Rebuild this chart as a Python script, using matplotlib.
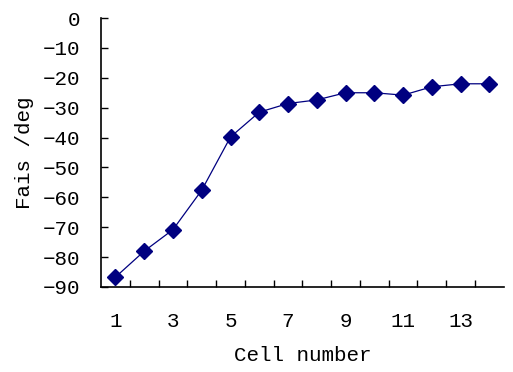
import numpy as np
import matplotlib
matplotlib.use("Agg")
import matplotlib.pyplot as plt

# values
cells = list(range(1, 15))
fais = [-86.7, -78.0, -70.8, -57.6, -39.8, -31.5, -28.6, -27.4,
        -25.0, -25.0, -25.8, -23.0, -22.0, -22.0]
x_labels = ["1", "3", "5", "7", "9", "11", "13"]
y_ticks = list(range(-90, 1, 10))

plt.rcParams['font.family'] = ['Liberation Mono', 'DejaVu Sans']

fig = plt.figure(figsize=(5.13, 3.72), dpi=100)
ax = fig.add_axes([0.197, 0.2285, 0.785, 0.723])

ax.plot(cells, fais, color='#000080', linewidth=0.9, marker='D',
        markersize=8, markerfacecolor='#000080', markeredgecolor='#000080')

ax.set_xlim(0.5, 14.5)
ax.set_ylim(-90, 0)

# category boundaries get the tick marks, labels under every other category
ax.set_xticks(np.arange(1.5, 14.5, 1.0), minor=True)
ax.set_xticks(cells[::2])
ax.set_xticklabels(x_labels)
ax.tick_params(axis='x', which='major', length=0, pad=18, labelsize=15)
ax.tick_params(axis='x', which='minor', direction='in', length=5, width=1)

ax.set_yticks(y_ticks)
ax.tick_params(axis='y', direction='in', length=5, width=1, pad=15,
               labelsize=15)

for s in ['top', 'right']:
    ax.spines[s].set_visible(False)
for s in ['left', 'bottom']:
    ax.spines[s].set_linewidth(1.2)

ax.set_xlabel("Cell number", fontsize=15, labelpad=11)
ax.set_ylabel("Fais /deg", fontsize=15, labelpad=6)

fig.savefig("out.png", dpi=100)
